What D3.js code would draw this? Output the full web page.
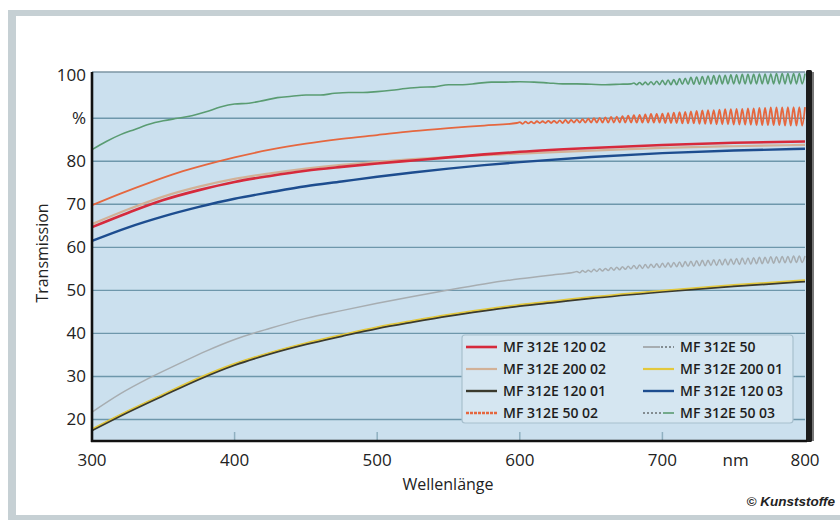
<!DOCTYPE html>
<html><head><meta charset="utf-8">
<script src="https://cdn.jsdelivr.net/npm/d3@7/dist/d3.min.js"></script>
<style>body{margin:0;background:#fff}svg{display:block}</style>
</head><body><svg id="c" width="840" height="520"></svg>
<script>
// ---------- DATA ----------
const yTicks = [20, 30, 40, 50, 60, 70, 80, 90, 100];
const yTickLabels = ["20", "30", "40", "50", "60", "70", "80", "%", "100"];
const xTicks = [300, 400, 500, 600, 700, 800];
const xTickLabels = ["300", "400", "500", "600", "700", "800"];
const xUnit = "nm";
const xTitle = "Wellenlänge";
const yTitle = "Transmission";
const credit = "© Kunststoffe";

const seriesNames = ["MF 312E 120 02", "MF 312E 200 02", "MF 312E 120 01", "MF 312E 50 02",
                     "MF 312E 50", "MF 312E 200 01", "MF 312E 120 03", "MF 312E 50 03"];

// smooth parts [nm, %]
const mf120_02 = [[300,64.7],[325,68.0],[350,71.0],[375,73.3],[400,75.2],[425,76.6],[450,77.8],[475,78.7],[500,79.5],[525,80.2],[550,80.9],[575,81.6],[600,82.2],[650,83.1],[700,83.8],[750,84.3],[800,84.6]];
const mf200_02 = [[300,65.4],[325,68.8],[350,71.8],[375,74.1],[400,75.9],[425,77.2],[450,78.3],[475,79.2],[500,79.9],[525,80.5],[550,81.0],[575,81.4],[600,81.8],[650,82.5],[700,83.1],[750,83.5],[800,83.8]];
const mf120_01 = [[300,17.5],[325,21.7],[350,25.6],[375,29.4],[400,32.7],[425,35.3],[450,37.5],[475,39.4],[500,41.2],[525,42.7],[550,44.1],[575,45.3],[600,46.4],[625,47.3],[650,48.2],[700,49.7],[750,51.0],[800,52.1]];
const mf200_01 = [[300,17.8],[325,22.0],[350,25.9],[375,29.7],[400,33.0],[425,35.6],[450,37.8],[475,39.7],[500,41.5],[525,43.0],[550,44.4],[575,45.6],[600,46.7],[625,47.6],[650,48.5],[700,50.0],[750,51.3],[800,52.4]];
const mf120_03 = [[300,61.5],[325,64.6],[350,67.2],[375,69.4],[400,71.3],[425,72.8],[450,74.2],[475,75.3],[500,76.4],[525,77.4],[550,78.3],[575,79.1],[600,79.8],[650,81.0],[700,81.9],[750,82.5],[800,82.9]];
const mf50_02 = [[300,69.8],[320,72.5],[340,75.0],[360,77.3],[380,79.2],[400,80.9],[425,82.7],[450,84.1],[475,85.2],[500,86.1],[525,87.0],[550,87.7],[575,88.3],[598,88.9]];
const mf50 = [[300,21.7],[320,26.0],[340,29.6],[360,32.8],[380,35.9],[400,38.6],[425,41.2],[450,43.5],[475,45.3],[500,47.0],[525,48.6],[550,50.1],[575,51.5],[600,52.7],[625,53.7],[638,54.2]];
const mf50_03 = [[300,82.7],[310,84.6],[320,86.2],[330,87.4],[340,88.6],[350,89.4],[360,90.0],[370,90.6],[380,91.5],[390,92.6],[400,93.3],[410,93.5],[420,94.1],[430,94.8],[440,95.1],[450,95.4],[460,95.4],[470,95.8],[480,96.0],[490,96.0],[500,96.2],[510,96.5],[520,96.9],[530,97.2],[540,97.3],[550,97.8],[560,97.8],[570,98.1],[580,98.4],[590,98.4],[600,98.5],[610,98.4],[620,98.2],[630,98.0],[640,98.0],[650,97.9],[660,97.8],[670,97.9],[678,98.0]];

// interference ripples (values every 2 nm)
const ripple50_02Start = 600;
const ripple50_02 = [89.1,88.7,89.2,88.8,89.2,88.8,89.3,88.9,89.3,88.9,89.4,88.9,89.4,88.9,89.5,88.9,89.6,88.9,89.6,89.0,
  89.7,89.0,89.8,89.0,89.9,89.0,90.0,89.0,90.1,89.0,90.2,89.0,90.3,89.0,90.4,89.0,90.5,89.0,90.6,89.0,
  90.7,89.0,90.8,89.0,90.9,89.0,91.0,89.0,91.0,89.0,91.1,88.9,91.2,88.9,91.3,88.9,91.4,88.8,91.5,88.8,
  91.6,88.8,91.7,88.7,91.8,88.7,91.9,88.7,91.9,88.6,92.0,88.6,92.1,88.6,92.1,88.5,92.2,88.5,92.2,88.5,
  92.3,88.5,92.3,88.4,92.4,88.4,92.4,88.4,92.5,88.4,92.5,88.4,92.5,88.3,92.6,88.3,92.6,88.3,92.6,88.3,92.6];
const ripple50_03Start = 680;
const ripple50_03 = [98.2,97.8,98.3,97.8,98.4,97.8,98.5,97.8,98.6,97.8,98.8,97.8,98.9,97.8,99.0,97.8,99.2,97.9,99.3,97.9,
  99.5,97.9,99.6,97.9,99.7,97.9,99.8,97.9,99.9,98.0,100.0,98.0,100.0,98.0,100.1,98.0,100.1,98.0,100.2,98.0,
  100.2,98.0,100.2,98.0,100.3,98.0,100.3,98.0,100.3,98.0,100.4,98.0,100.4,98.0,100.4,98.0,100.4,98.0,100.4,98.0,100.4];
const ripple50Start = 640;
const ripple50 = [54.4,54.1,54.6,54.2,54.7,54.3,54.9,54.4,55.0,54.5,55.1,54.6,55.3,54.7,55.4,54.8,55.5,54.9,55.6,55.0,
  55.8,55.0,55.9,55.1,56.0,55.2,56.1,55.3,56.2,55.3,56.3,55.4,56.4,55.4,56.5,55.5,56.6,55.5,56.7,55.6,
  56.8,55.6,56.9,55.7,57.0,55.7,57.0,55.8,57.1,55.8,57.2,55.9,57.3,55.9,57.3,56.0,57.4,56.0,57.5,56.1,
  57.5,56.1,57.6,56.2,57.7,56.2,57.7,56.3,57.8,56.3,57.8,56.4,57.9,56.4,57.9,56.4,58.0,56.5,58.0,56.5,58.0];

// ---------- DRAW ----------
const svg = d3.select("#c");
const FONT = "'Open Sans', 'DejaVu Sans', sans-serif";
const L = 92, R = 805, T = 72, B = 441;
const x = d3.scaleLinear().domain([300, 800]).range([L, R]);
const y = d3.scaleLinear().domain([15, 100.75]).range([B, T]);

// outer frame bands
svg.append("rect").attr("x", 8).attr("y", 10).attr("width", 832).attr("height", 6).attr("fill", "#c6d0d4");
svg.append("rect").attr("x", 8).attr("y", 10).attr("width", 8).attr("height", 510).attr("fill", "#c6d0d4");
svg.append("rect").attr("x", 8).attr("y", 515).attr("width", 832).attr("height", 5).attr("fill", "#c6d0d4");

// plot background
svg.append("rect").attr("x", L).attr("y", T).attr("width", R - L + 1).attr("height", B - T).attr("fill", "#cbe0ee");

// grid
svg.append("g").selectAll("line").data(yTicks.filter(d => d < 100)).join("line")
  .attr("x1", L).attr("x2", R).attr("y1", d => y(d)).attr("y2", d => y(d))
  .attr("stroke", "#6e97ab").attr("stroke-width", 1.4);
// small ticks at bottom
svg.append("g").selectAll("line").data(xTicks.slice(1, -1)).join("line")
  .attr("x1", d => x(d)).attr("x2", d => x(d)).attr("y1", B).attr("y2", B - 9)
  .attr("stroke", "#8fb0c0").attr("stroke-width", 1.5);

// build series
const rip = (start, vals) => vals.map((v, i) => [start + 2 * i, v]);
const S = {
  "MF 312E 120 01": mf120_01,
  "MF 312E 200 01": mf200_01,
  "MF 312E 50": mf50.concat(rip(ripple50Start, ripple50)),
  "MF 312E 120 03": mf120_03,
  "MF 312E 200 02": mf200_02,
  "MF 312E 120 02": mf120_02,
  "MF 312E 50 02": mf50_02.concat(rip(ripple50_02Start, ripple50_02)),
  "MF 312E 50 03": mf50_03.concat(rip(ripple50_03Start, ripple50_03))
};
const style = {
  "MF 312E 120 02": {c: "#d62a3c", w: 2.6},
  "MF 312E 200 02": {c: "#d2b197", w: 2.2},
  "MF 312E 120 01": {c: "#3a3a2e", w: 2.4},
  "MF 312E 50 02": {c: "#e5673f", w: 1.8},
  "MF 312E 50":    {c: "#a7adb1", w: 1.5},
  "MF 312E 200 01": {c: "#e3c83c", w: 1.5},
  "MF 312E 120 03": {c: "#1d4d8f", w: 2.4},
  "MF 312E 50 03": {c: "#5a9c72", w: 1.6}
};
const line = d3.line().x(d => x(d[0])).y(d => y(d[1])).curve(d3.curveMonotoneX);
const order = ["MF 312E 120 01", "MF 312E 200 01", "MF 312E 50", "MF 312E 120 03", "MF 312E 200 02", "MF 312E 120 02", "MF 312E 50 02", "MF 312E 50 03"];
svg.append("g").selectAll("path").data(order).join("path")
  .attr("d", k => line(S[k])).attr("fill", "none")
  .attr("stroke", k => style[k].c).attr("stroke-width", k => style[k].w)
  .attr("stroke-linejoin", "round");

// borders
svg.append("line").attr("x1", L).attr("x2", R).attr("y1", T).attr("y2", T).attr("stroke", "#7d96a3").attr("stroke-width", 1.5);
svg.append("rect").attr("x", R + 1).attr("y", T - 2).attr("width", 6).attr("height", B - T + 3).attr("fill", "#1c1c1c").attr("rx", 1.5);
svg.append("rect").attr("x", R + 7).attr("y", T).attr("width", 2).attr("height", B - T).attr("fill", "#777");
svg.append("line").attr("x1", L).attr("x2", L).attr("y1", T).attr("y2", B + 1).attr("stroke", "#111").attr("stroke-width", 2.6);
svg.append("line").attr("x1", L - 1).attr("x2", R + 2).attr("y1", B).attr("y2", B).attr("stroke", "#111").attr("stroke-width", 2.6);

// y labels
svg.append("g").selectAll("text").data(yTicks).join("text")
  .attr("x", 86).attr("y", d => y(d)).attr("dy", "0.35em").attr("text-anchor", "end")
  .attr("font-family", FONT).attr("font-size", 17).attr("fill", "#222")
  .text((d, i) => yTickLabels[i]);
// x labels
svg.append("g").selectAll("text").data(xTicks).join("text")
  .attr("x", d => x(d)).attr("y", 466).attr("text-anchor", "middle")
  .attr("font-family", FONT).attr("font-size", 17).attr("fill", "#222")
  .text((d, i) => xTickLabels[i]);
svg.append("text").attr("x", (x(700) + x(800)) / 2 + 2).attr("y", 466).attr("text-anchor", "middle")
  .attr("font-family", FONT).attr("font-size", 17).attr("fill", "#222").text(xUnit);
svg.append("text").attr("x", 448).attr("y", 490).attr("text-anchor", "middle")
  .attr("font-family", FONT).attr("font-size", 16).attr("fill", "#222").text(xTitle);
svg.append("text").attr("transform", "translate(48,253) rotate(-90)").attr("text-anchor", "middle")
  .attr("font-family", FONT).attr("font-size", 16).attr("fill", "#222").text(yTitle);
svg.append("text").attr("x", 835).attr("y", 506).attr("text-anchor", "end")
  .attr("font-family", "'Liberation Sans', Arial, sans-serif").attr("font-weight", "bold").attr("font-style", "italic")
  .attr("font-size", 13.5).attr("fill", "#222").text(credit);

// legend
const lg = svg.append("g");
lg.append("rect").attr("x", 462).attr("y", 335).attr("width", 331).attr("height", 88).attr("rx", 3)
  .attr("fill", "#d5e6f1").attr("stroke", "#a8c0ce").attr("stroke-width", 1.2);
const rowY = [347, 369, 391, 413];
const items = lg.selectAll("g.it").data(seriesNames).join("g").attr("class", "it")
  .attr("transform", (d, i) => `translate(${i < 4 ? 466 : 643},${rowY[i % 4]})`);
items.each(function(k) {
  const g = d3.select(this), st = style[k];
  if (k === "MF 312E 50") {
    g.append("line").attr("x1", 0).attr("x2", 17).attr("stroke", st.c).attr("stroke-width", 2);
    g.append("line").attr("x1", 18).attr("x2", 31).attr("stroke", "#333").attr("stroke-width", 1.2).attr("stroke-dasharray", "2,2");
  } else if (k === "MF 312E 50 03") {
    g.append("line").attr("x1", 0).attr("x2", 19).attr("stroke", "#333").attr("stroke-width", 1.2).attr("stroke-dasharray", "2,2");
    g.append("line").attr("x1", 20).attr("x2", 31).attr("stroke", st.c).attr("stroke-width", 1.6);
  } else if (k === "MF 312E 50 02") {
    g.append("line").attr("x1", 0).attr("x2", 31).attr("stroke", st.c).attr("stroke-width", 2.4).attr("stroke-dasharray", "3,1");
  } else {
    g.append("line").attr("x1", 0).attr("x2", 31).attr("stroke", st.c).attr("stroke-width", Math.max(2.2, st.w));
  }
  g.append("text").attr("x", 37).attr("dy", "0.35em").attr("font-family", FONT).attr("font-weight", 600)
    .attr("font-size", 14).attr("fill", "#1e1e1e").text(k);
});
</script></body></html>
